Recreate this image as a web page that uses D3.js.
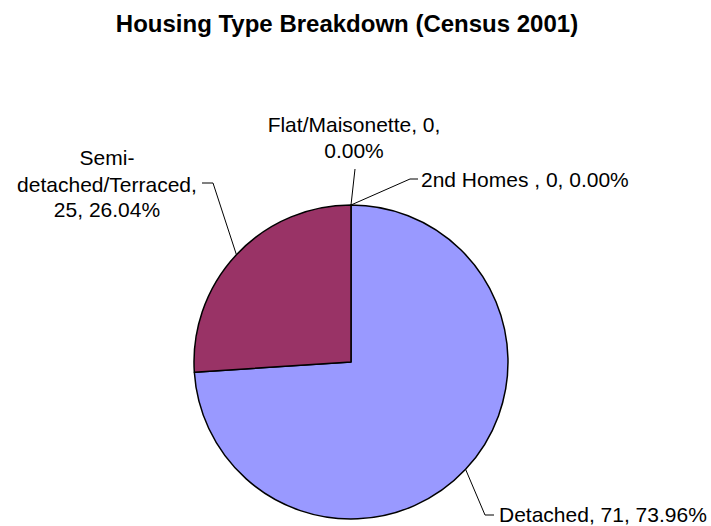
<!DOCTYPE html>
<html>
<head>
<meta charset="utf-8">
<script src="https://cdn.jsdelivr.net/npm/d3@7/dist/d3.min.js"></script>
<style>
  html, body { margin: 0; padding: 0; background: #fff; }
  svg text { font-family: "Liberation Sans", Arial, Helvetica, sans-serif; fill: #000; }
</style>
</head>
<body>
<svg id="chart" width="711" height="526"></svg>
<script>
// ---- data ----
const categories = ["Detached", "Semi-detached/Terraced", "Flat/Maisonette", "2nd Homes "];
const values = [71, 25, 0, 0];
const colors = ["#9999FF", "#993366", "#FFFFCC", "#CCFFFF"];
const title = "Housing Type Breakdown (Census 2001)";

// ---- layout ----
const W = 711, H = 526;
const cx = 351, cy = 362, R = 157;
const svg = d3.select("#chart");

svg.append("text")
  .attr("x", 347).attr("y", 32)
  .attr("text-anchor", "middle")
  .style("font-size", "24px").style("font-weight", "bold")
  .text(title);

const total = d3.sum(values);
const pie = d3.pie().sort(null).value(d => d)(values);
const arc = d3.arc().innerRadius(0).outerRadius(R);

const g = svg.append("g").attr("transform", `translate(${cx},${cy})`);
g.selectAll("path.slice")
  .data(pie.filter(d => d.value > 0))
  .enter().append("path")
  .attr("class", "slice")
  .attr("d", arc)
  .attr("fill", (d) => colors[d.index])
  .attr("stroke", "#000")
  .attr("stroke-width", 1.5)
  .attr("stroke-linejoin", "round");

// label layout per category (positions only)
const labelLayout = [
  { // Detached
    elbow: [485, 515], end: [494, 515],
    lines: [{ x: 499, y: 522, anchor: "start", fmt: (c, v, p) => `${c}, ${v}, ${p}` }]
  },
  { // Semi
    elbow: [213, 183], end: [202, 183],
    lines: [
      { x: 107, y: 165, anchor: "middle", fmt: (c) => c.split("-")[0] + "-" },
      { x: 107, y: 192, anchor: "middle", fmt: (c) => c.split("-")[1] + "," },
      { x: 107, y: 217, anchor: "middle", fmt: (c, v, p) => `${v}, ${p}` }
    ]
  },
  { // Flat
    elbow: null, end: [355, 169],
    lines: [
      { x: 354, y: 132, anchor: "middle", fmt: (c, v) => `${c}, ${v},` },
      { x: 354, y: 158, anchor: "middle", fmt: (c, v, p) => p }
    ]
  },
  { // 2nd Homes
    elbow: [410, 179], end: [418, 179],
    lines: [{ x: 421, y: 187, anchor: "start", fmt: (c, v, p) => `${c}, ${v}, ${p}` }]
  }
];

pie.forEach((d, i) => {
  const L = labelLayout[i];
  const mid = (d.startAngle + d.endAngle) / 2;
  const sx = cx + R * Math.sin(mid), sy = cy - R * Math.cos(mid);
  const pts = [[sx, sy]];
  if (L.elbow) pts.push(L.elbow);
  pts.push(L.end);
  svg.append("path")
    .attr("d", d3.line()(pts))
    .attr("fill", "none")
    .attr("stroke", "#000")
    .attr("stroke-width", 1);
  const pct = (values[i] / total * 100).toFixed(2) + "%";
  L.lines.forEach(ln => {
    svg.append("text")
      .attr("x", ln.x).attr("y", ln.y)
      .attr("text-anchor", ln.anchor)
      .style("font-size", "21px")
      .text(ln.fmt(categories[i], values[i], pct));
  });
});
</script>
</body>
</html>
